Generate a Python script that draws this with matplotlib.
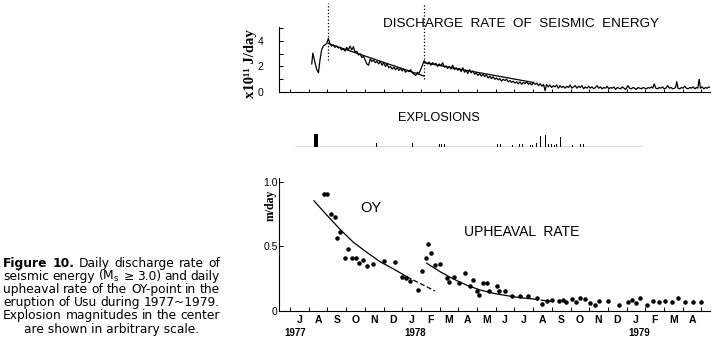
import matplotlib
matplotlib.use('Agg')
import matplotlib.pyplot as plt
import matplotlib.transforms as mtransforms

# ---- data (x in months since 1 Jul 1977) ----
energy_t = [1.16, 1.22, 1.32, 1.42, 1.52, 1.60, 1.69, 1.78, 1.87, 1.96, 2.05, 2.13, 2.22, 2.31,
            2.40, 2.49, 2.58, 2.67, 2.76, 2.85, 2.94, 3.03, 3.12, 3.21, 3.30, 3.39, 3.48, 3.57,
            3.66, 3.75, 3.84, 3.93, 4.02, 4.11, 4.20, 4.29, 4.38, 4.47, 4.56, 4.65, 4.74, 4.83,
            4.92, 5.01, 5.10, 5.19, 5.28, 5.37, 5.46, 5.55, 5.64, 5.73, 5.82, 5.91, 6.00, 6.09,
            6.18, 6.27, 6.36, 6.45, 6.54, 6.63, 6.72, 6.81, 6.90, 7.00, 7.08, 7.17,
            7.26, 7.35, 7.44, 7.53, 7.62, 7.71, 7.80, 7.89, 7.98, 8.07, 8.16, 8.25, 8.34, 8.43,
            8.52, 8.61, 8.70, 8.79, 8.88, 8.97, 9.06, 9.15, 9.24, 9.33, 9.42, 9.51, 9.60, 9.69,
            9.78, 9.87, 9.96, 10.05, 10.14, 10.23, 10.32, 10.41, 10.50, 10.59, 10.68, 10.77,
            10.86, 10.95, 11.04, 11.13, 11.22, 11.31, 11.40, 11.49, 11.58, 11.67, 11.76, 11.85,
            11.94, 12.03, 12.12, 12.21, 12.30, 12.39, 12.48, 12.57, 12.66, 12.75, 12.84, 12.93,
            13.02, 13.11, 13.20, 13.29, 13.38, 13.47, 13.56, 13.64, 13.72, 13.81, 13.90, 13.99,
            14.08, 14.17, 14.26, 14.35, 14.44, 14.53, 14.62, 14.71, 14.80, 14.89, 14.98, 15.07,
            15.16, 15.25, 15.34, 15.43, 15.52, 15.61, 15.70, 15.79, 15.88, 15.97, 16.06, 16.15,
            16.24, 16.33, 16.42, 16.51, 16.60, 16.69, 16.78, 16.87, 16.96, 17.05, 17.14, 17.23,
            17.32, 17.41, 17.50, 17.59, 17.68, 17.77, 17.86, 17.95, 18.07, 18.16, 18.25, 18.34,
            18.43, 18.52, 18.61, 18.70, 18.79, 18.88, 18.97, 19.06, 19.15, 19.24, 19.33, 19.40,
            19.48, 19.56, 19.65, 19.74, 19.83, 19.92, 20.01, 20.10, 20.20, 20.29, 20.38, 20.47,
            20.56, 20.62, 20.68, 20.75, 20.84, 20.93, 21.02, 21.11, 21.20, 21.29, 21.38, 21.47,
            21.56, 21.65, 21.74, 21.81, 21.88, 21.95, 22.04, 22.13, 22.22, 22.31, 22.40, 22.48, 22.55]
energy_v = [2.2, 3.05, 2.4, 1.8, 1.5, 2.5, 3.3, 3.6, 3.7, 3.8, 4.2, 3.8, 3.6, 3.7,
            3.5, 3.6, 3.45, 3.5, 3.3, 3.4, 3.2, 3.5, 3.3, 3.6, 3.3, 3.55, 3.1, 3.2,
            2.9, 3.0, 2.7, 2.8, 2.5, 2.2, 2.1, 2.6, 2.4, 2.5, 2.3, 2.4, 2.2, 2.4,
            2.1, 2.3, 2.0, 2.2, 1.9, 2.0, 1.8, 1.95, 1.75, 1.9, 1.7, 1.85, 1.65, 1.8,
            1.55, 1.7, 1.6, 1.75, 1.5, 1.4, 1.3, 1.55, 1.45, 1.8, 2.1, 2.45,
            2.3, 2.2, 2.35, 2.1, 2.3, 2.15, 2.25, 2.0, 2.2, 2.05, 2.3, 1.95, 2.05, 1.85,
            2.0, 1.8, 2.1, 1.75, 1.9, 1.7, 1.85, 1.6, 1.9, 1.55, 1.7, 1.45, 1.75, 1.5,
            1.65, 1.4, 1.5, 1.3, 1.45, 1.25, 1.4, 1.2, 1.35, 1.1, 1.25, 1.05,
            1.2, 1.0, 1.1, 0.95, 1.05, 0.85, 1.0, 0.9, 1.0, 0.8, 0.9, 0.75,
            0.85, 0.7, 0.8, 0.65, 0.8, 0.6, 0.75, 0.65, 0.8, 0.6, 0.7, 0.55,
            0.75, 0.6, 0.7, 0.5, 0.65, 0.45, 0.6, 0.1, 0.6, 0.4, 0.55, 0.35,
            0.5, 0.4, 0.55, 0.3, 0.5, 0.35, 0.45, 0.3, 0.45, 0.35, 0.55, 0.3,
            0.4, 0.5, 0.3, 0.45, 0.35, 0.5, 0.25, 0.4, 0.3, 0.45, 0.3, 0.4,
            0.25, 0.35, 0.5, 0.3, 0.4, 0.25, 0.35, 0.3, 0.45, 0.25, 0.35, 0.3,
            0.4, 0.2, 0.35, 0.3, 0.25, 0.4, 0.3, 0.2, 0.5, 0.3, 0.25, 0.35,
            0.3, 0.2, 0.35, 0.3, 0.25, 0.35, 0.3, 0.25, 0.35, 0.3, 0.4, 0.3,
            0.63, 0.3, 0.25, 0.35, 0.3, 0.4, 0.25, 0.3, 0.5, 0.3, 0.35, 0.25,
            0.3, 0.35, 0.81, 0.3, 0.25, 0.35, 0.3, 0.45, 0.3, 0.25, 0.35, 0.3,
            0.4, 0.25, 0.35, 0.3, 1.0, 0.3, 0.4, 0.25, 0.35, 0.3, 0.4, 0.35, 0.3]

trend1_t = [2.05, 7.17]
trend1_v = [3.8, 1.25]
trend2_t = [7.17, 13.0]
trend2_v = [2.3, 0.75]
onset_t = [2.05, 7.17]
onset_lo = [2.5, 1.0]

expl_t = [1.39, 4.60, 6.54, 7.97, 8.10, 8.24, 8.34, 9.84, 10.80, 10.96, 11.12, 11.26,
          11.91, 12.26, 12.44, 12.86, 12.99, 13.10, 13.19, 13.42, 13.65, 13.81, 13.99,
          14.13, 14.26, 14.48, 15.12, 15.55, 15.68]
expl_h = [13.5, 4, 4, 3.3, 3.3, 3.3, 3.3, 3, 3, 3, 3, 3,
          2, 3, 3, 2, 2, 2, 4, 11, 12.5, 3, 3,
          2, 3, 10, 2, 3, 3]

uplift_t = [1.82, 2.00, 2.17, 2.41, 2.53, 2.67, 2.96, 3.12, 3.33, 3.51, 3.71, 3.92, 4.14,
            4.42, 5.03, 5.63, 5.97, 6.19, 6.42, 6.83, 7.08, 7.26, 7.36, 7.52, 7.75, 8.02,
            8.38, 8.52, 8.75, 9.06, 9.38, 9.63, 9.80, 9.98, 10.10, 10.30, 10.52, 10.66,
            11.05, 11.19, 11.50, 11.85, 12.30, 12.75, 13.19, 13.46, 13.73, 13.99, 14.40,
            14.58, 14.76, 15.06, 15.29, 15.51, 15.78, 16.04, 16.31, 16.54, 17.02, 17.61,
            18.09, 18.27, 18.48, 18.72, 19.11, 19.43, 19.73, 20.05, 20.45, 20.77, 21.12,
            21.53, 21.96]
uplift_v = [0.907, 0.907, 0.752, 0.731, 0.568, 0.615, 0.413, 0.478, 0.413, 0.413, 0.370,
            0.395, 0.351, 0.362, 0.388, 0.377, 0.266, 0.258, 0.233, 0.163, 0.310, 0.413,
            0.517, 0.447, 0.357, 0.367, 0.253, 0.227, 0.266, 0.214, 0.292, 0.191, 0.240,
            0.158, 0.124, 0.214, 0.214, 0.158, 0.191, 0.155, 0.155, 0.116, 0.116, 0.116,
            0.098, 0.052, 0.078, 0.085, 0.078, 0.085, 0.072, 0.090, 0.072, 0.098, 0.090,
            0.065, 0.047, 0.078, 0.078, 0.047, 0.072, 0.085, 0.065, 0.098, 0.047, 0.078,
            0.072, 0.078, 0.072, 0.098, 0.072, 0.072, 0.072]

fit1_t = [1.28, 1.96, 2.67, 3.39, 4.10, 4.81, 5.53, 6.24]
fit1_v = [0.853, 0.744, 0.633, 0.532, 0.455, 0.382, 0.326, 0.266]
fit1d_t = [6.24, 6.95, 7.75]
fit1d_v = [0.266, 0.214, 0.155]
fit2_t = [7.31, 8.02, 8.73, 9.45, 10.16, 10.87, 11.59, 12.30, 13.01]
fit2_v = [0.370, 0.305, 0.248, 0.200, 0.163, 0.137, 0.119, 0.103, 0.093]
fit2d_t = [13.01, 13.73, 14.2]
fit2d_v = [0.093, 0.078, 0.072]

month_labels = ['J', 'A', 'S', 'O', 'N', 'D', 'J', 'F', 'M', 'A', 'M', 'J',
                'J', 'A', 'S', 'O', 'N', 'D', 'J', 'F', 'M', 'A']
year_labels = ['1977', '1978', '1979']
year_pos = [0.27, 6.68, 18.7]

caption = ['Figure 10. Daily discharge rate of',
           'seismic energy (M$_\\mathregular{s}$ \u2265 3.0) and daily',
           'upheaval rate of the OY-point in the',
           'eruption of Usu during 1977~1979.',
           'Explosion magnitudes in the center',
           'are shown in arbitrary scale.']

W, H = 716, 345
XLIM = (-0.59, 22.46)
SANS = 'Liberation Sans'
SERIF = 'Liberation Serif'


def box(x0, y_top, x1, y_bot):
    return [x0 / W, 1 - y_bot / H, (x1 - x0) / W, (y_bot - y_top) / H]


fig = plt.figure(figsize=(7.16, 3.45), dpi=100)

# ---- top: seismic energy ----
ax1 = fig.add_axes(box(279, 2.75, 710, 92))
ax1.plot(energy_t, energy_v, color='black', lw=0.9)
ax1.plot(trend1_t, trend1_v, color='black', lw=0.9)
ax1.plot(trend2_t, trend2_v, color='black', lw=0.9)
ax1.vlines(onset_t, onset_lo, 7.0, colors='black', linestyles=':', lw=0.9)
ax1.set_xlim(*XLIM)
ax1.set_ylim(0, 7)
for s in ['top', 'right']:
    ax1.spines[s].set_visible(False)
ax1.spines['left'].set_bounds(0, 5.1)
ax1.set_yticks(range(6))
ax1.set_yticklabels(['0', '', '2', '', '4', ''], fontsize=7.5, family=SANS)
ax1.set_xticks(range(0, 23))
ax1.set_xticklabels([])
ax1.tick_params(axis='x', direction='in', length=2.5, width=0.7)
ax1.tick_params(axis='y', direction='in', length=3, width=0.7, pad=11)
ax1.set_ylabel('x10\u00b9\u00b9 J/day', family=SERIF, fontweight='bold', fontsize=10.5)
ax1.yaxis.set_label_coords(-0.051, 0.32)
ax1.text(12.33, 5.33, 'DISCHARGE  RATE  OF  SEISMIC  ENERGY', family=SANS, fontsize=9.7,
         ha='center', va='center')

# ---- middle: explosions ----
ax2 = fig.add_axes(box(279, 112, 710, 147))
ax2.bar(expl_t, expl_h, width=[0.2] + [0.05] * (len(expl_t) - 1), color='black', align='center')
ax2.hlines(0, 0.27, 18.8, colors='black', lw=0.9)
ax2.set_xlim(*XLIM)
ax2.set_ylim(0, 35)
ax2.axis('off')
ax2.text(7.94, 29, 'EXPLOSIONS', family=SANS, fontsize=9.2, ha='center', va='center')

# ---- bottom: upheaval rate ----
ax3 = fig.add_axes(box(279, 178, 710, 311))
ax3.scatter(uplift_t, uplift_v, s=5, color='black', zorder=3)
ax3.plot(fit1_t, fit1_v, color='black', lw=0.9)
ax3.plot(fit1d_t, fit1d_v, color='black', lw=0.9, ls=(0, (4, 2)))
ax3.plot(fit2_t, fit2_v, color='black', lw=0.9)
ax3.plot(fit2d_t, fit2d_v, color='black', lw=0.9, ls=(0, (4, 2)))
ax3.set_xlim(*XLIM)
ax3.set_ylim(0, 1.03)
for s in ['top', 'right']:
    ax3.spines[s].set_visible(False)
ax3.set_yticks([0, 0.5, 1.0])
ax3.set_yticklabels(['0', '0.5', '1.0'], fontsize=7.5, family=SANS)
ax3.set_xticks([m + 0.5 for m in range(22)])
ax3.set_xticklabels(month_labels, fontsize=7.5, family=SANS, fontweight='bold')
ax3.set_xticks(range(0, 23), minor=True)
ax3.tick_params(axis='x', which='major', length=0, pad=3)
ax3.tick_params(axis='x', which='minor', direction='in', length=3, width=0.7)
ax3.tick_params(axis='y', direction='in', length=3, width=0.7, pad=1)
ax3.set_ylabel('m/day', family=SERIF, fontweight='bold', fontsize=8.5)
ax3.yaxis.set_label_coords(-0.005, 0.795)
trans = mtransforms.blended_transform_factory(ax3.transData, ax3.transAxes)
for lab, pos in zip(year_labels, year_pos):
    ax3.text(pos, -0.165, lab, transform=trans, fontsize=7, family=SANS,
             fontweight='bold', ha='center', va='center')
ax3.text(4.33, 0.8, 'OY', family=SANS, fontsize=10.5, ha='center', va='center')
ax3.text(12.38, 0.615, 'UPHEAVAL  RATE', family=SANS, fontsize=10, ha='center', va='center')

# ---- caption: justified lines, last one centred ----
renderer = fig.canvas.get_renderer()
cap_fs = 8.8
cap_y0, cap_dy = 263.3, 13.15
cap_x0, cap_x1 = 3, 220
for i, line in enumerate(caption):
    y = 1 - (cap_y0 + i * cap_dy) / H
    if i == len(caption) - 1:
        fig.text((cap_x0 + cap_x1) / 2 / W, y, line, fontsize=cap_fs, ha='center', va='center')
        continue
    words = line.split(' ')
    texts = []
    for j, w in enumerate(words):
        bold = (i == 0 and j < 2)
        texts.append(fig.text(0, y, w, fontsize=cap_fs, ha='left', va='center',
                              fontweight='bold' if bold else 'normal'))
    widths = [t.get_window_extent(renderer).width for t in texts]
    gap = max(2.0, (cap_x1 - cap_x0 - sum(widths)) / (len(words) - 1))
    x = cap_x0
    for t, w in zip(texts, widths):
        t.set_x(x / W)
        x += w + gap

fig.savefig('out.png', dpi=100)
